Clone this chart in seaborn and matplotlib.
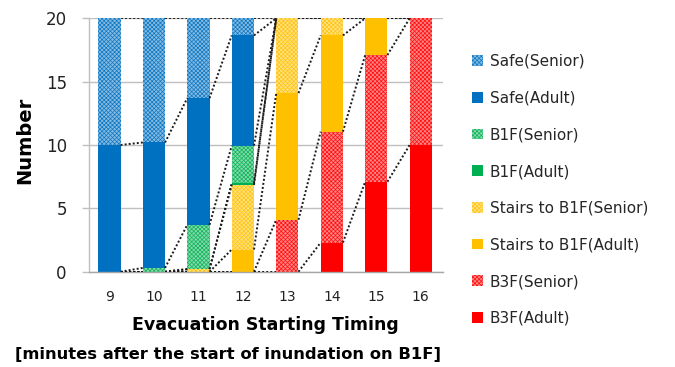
import numpy as np
import pandas as pd
import matplotlib
matplotlib.use("Agg")
import matplotlib.pyplot as plt
from matplotlib.patches import Patch
from matplotlib.colors import to_rgb
import seaborn as sns

# Evacuation starting timing (minutes after inundation starts on B1F)
timing = ["9", "10", "11", "12", "13", "14", "15", "16"]

# Number of evacuees per outcome, stacked bottom -> top
b3f_adult = [0, 0, 0, 0, 0, 2.3, 7.1, 10.0]
b3f_senior = [0, 0, 0, 0, 4.1, 8.75, 10.0, 10.0]
stairs_adult = [0, 0, 0, 1.75, 10.0, 7.6, 2.9, 0]
stairs_senior = [0, 0, 0.2, 5.1, 5.9, 1.35, 0, 0]
b1f_adult = [0, 0, 0, 0.15, 0, 0, 0, 0]
b1f_senior = [0, 0.3, 3.5, 2.95, 0, 0, 0, 0]
safe_adult = [10.0, 9.9, 10.0, 8.7, 0, 0, 0, 0]
safe_senior = [10.0, 9.8, 6.3, 1.35, 0, 0, 0, 0]

series_labels = ["B3F(Adult)", "B3F(Senior)", "Stairs to B1F(Adult)", "Stairs to B1F(Senior)",
                 "B1F(Adult)", "B1F(Senior)", "Safe(Adult)", "Safe(Senior)"]
series_values = [b3f_adult, b3f_senior, stairs_adult, stairs_senior,
                 b1f_adult, b1f_senior, safe_adult, safe_senior]
base_colors = ["#FF0000", "#FF0000", "#FFC000", "#FFC000",
               "#00B050", "#00B050", "#0070C0", "#0070C0"]
senior_flags = [False, True, False, True, False, True, False, True]

sns.set_theme(style="white")
plt.rcParams["font.family"] = ["DejaVu Sans"]
plt.rcParams["hatch.linewidth"] = 0.5


def lighten(c, amt):
    r, g, b = to_rgb(c)
    return (r + (1 - r) * amt, g + (1 - g) * amt, b + (1 - b) * amt)


def style_for(base, senior):
    if senior:
        return dict(color=lighten(base, 0.52), edgecolor=lighten(base, 0.05),
                    hatch="xxxxxxxx", linewidth=0)
    return dict(color=base, edgecolor=base, linewidth=0)


fig = plt.figure(figsize=(6.75, 3.67), dpi=100)
ax = fig.add_axes([89 / 675, 1 - 271.7 / 367, (443 - 89) / 675, (271.7 - 18.3) / 367])

bar_w = 0.5
bottom = np.zeros(len(timing))
tops = []
for label, vals, base, senior in zip(series_labels, series_values, base_colors, senior_flags):
    df = pd.DataFrame({"timing": timing, "count": vals})
    sns.barplot(data=df, x="timing", y="count", order=timing, bottom=bottom,
                width=bar_w, saturation=1, errorbar=None, ax=ax,
                **style_for(base, senior))
    bottom = bottom + np.asarray(vals, dtype=float)
    tops.append(bottom.copy())

# Series lines joining each segment's top between neighbouring bars
for top in tops:
    for i in range(len(timing) - 1):
        ax.plot([i + bar_w / 2, i + 1 - bar_w / 2], [top[i], top[i + 1]],
                color="#1a1a1a", lw=1.4, ls=(0, (1, 1.1)), zorder=5,
                dash_capstyle="butt")

ax.set_ylim(0, 20)
ax.set_xlim(-0.46, 7.5)
ax.set_yticks([0, 5, 10, 15, 20])
ax.yaxis.grid(True, color="#BFBFBF", lw=1)
ax.set_axisbelow(True)
for s in ["top", "right"]:
    ax.spines[s].set_visible(False)
ax.spines["left"].set_color("#BFBFBF")
ax.spines["bottom"].set_color("#A6A6A6")
ax.spines["left"].set_linewidth(1)
ax.spines["bottom"].set_linewidth(1)
ax.tick_params(axis="y", left=True, length=5, width=1, color="#BFBFBF",
               pad=11, labelsize=12, labelcolor="#222222")
ax.tick_params(axis="x", bottom=False, length=0, pad=13, labelsize=10, labelcolor="#222222")
ax.set_xlabel("")
ax.set_ylabel("")

fig.text(24.5 / 675, 1 - 140 / 367, "Number", rotation=90, ha="center", va="center",
         fontsize=14, fontweight="bold", color="black")
fig.text(265 / 675, 1 - 325 / 367, "Evacuation Starting Timing", ha="center", va="center",
         fontsize=12.5, fontweight="bold", color="black")
fig.text(228 / 675, 1 - 355 / 367, "[minutes after the start of inundation on B1F]",
         ha="center", va="center", fontsize=11.8, fontweight="bold", color="black")

handles = []
for label, base, senior in zip(series_labels, base_colors, senior_flags):
    st = style_for(base, senior)
    handles.append(Patch(facecolor=st["color"], edgecolor=st["edgecolor"],
                         hatch=st.get("hatch"), linewidth=0, label=label))
fig.legend(handles=handles[::-1], loc="upper left", bbox_to_anchor=(472 / 675, 1 - 54 / 367),
           frameon=False, fontsize=11, handlelength=0.7, handleheight=0.7,
           handletextpad=0.45, labelspacing=1.42, borderpad=0, borderaxespad=0)

fig.savefig("out.png", dpi=100)
